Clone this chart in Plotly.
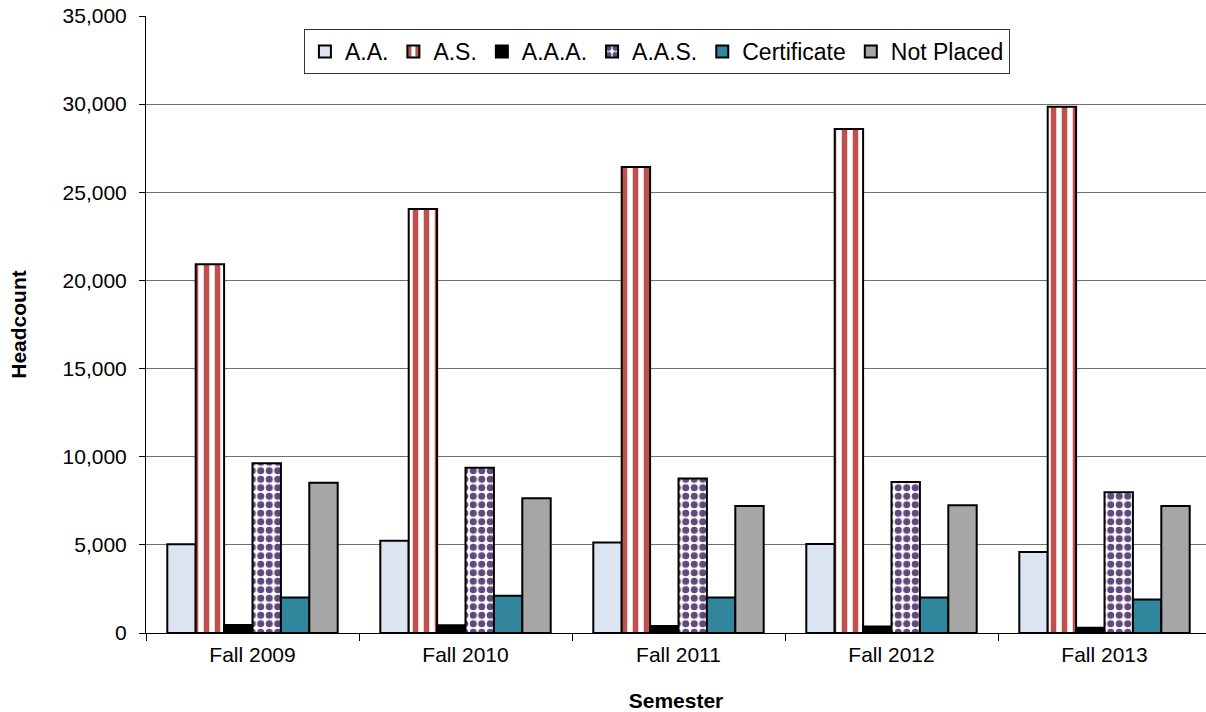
import plotly.graph_objects as go

semesters = ["Fall 2009", "Fall 2010", "Fall 2011", "Fall 2012", "Fall 2013"]
aa_vals = [5030, 5240, 5130, 5050, 4600]
as_vals = [20920, 24050, 26430, 28590, 29850]
aaa_vals = [450, 440, 400, 370, 300]
aas_vals = [9630, 9380, 8760, 8560, 7990]
cert_vals = [2010, 2120, 2020, 2020, 1900]
notplaced_vals = [8530, 7650, 7200, 7250, 7200]

series_names = ["A.A.", "A.S.", "A.A.A.", "A.A.S.", "Certificate", "Not Placed"]

FONT = "Liberation Sans, Arial, sans-serif"
line = dict(color="black", width=2)

fig = go.Figure()
fig.add_trace(go.Bar(name=series_names[0], x=semesters, y=aa_vals,
                     marker=dict(color="#DBE5F1", line=line)))
fig.add_trace(go.Bar(name=series_names[1], x=semesters, y=as_vals,
                     marker=dict(color="white", line=line,
                                 pattern=dict(shape="|", size=11, solidity=0.5,
                                              fgcolor="#C0504D", bgcolor="white",
                                              fillmode="replace"))))
fig.add_trace(go.Bar(name=series_names[2], x=semesters, y=aaa_vals,
                     marker=dict(color="black", line=line)))
fig.add_trace(go.Bar(name=series_names[3], x=semesters, y=aas_vals,
                     marker=dict(color="white", line=line,
                                 pattern=dict(shape=".", size=8.5, solidity=0.55,
                                              fgcolor="#604A7B", bgcolor="white",
                                              fillmode="replace"))))
fig.add_trace(go.Bar(name=series_names[4], x=semesters, y=cert_vals,
                     marker=dict(color="#31859C", line=line)))
fig.add_trace(go.Bar(name=series_names[5], x=semesters, y=notplaced_vals,
                     marker=dict(color="#A6A6A6", line=line)))

fig.update_layout(
    width=1206, height=712,
    margin=dict(l=146, r=0, t=16, b=79, autoexpand=False),
    paper_bgcolor="white", plot_bgcolor="white",
    barmode="group", bargap=0.2, bargroupgap=0,
    font=dict(family=FONT, size=21, color="black"),
    legend=dict(orientation="h", x=0.482, xanchor="center", y=0.979, yanchor="top",
                bgcolor="white", bordercolor="#333333", borderwidth=1,
                font=dict(family=FONT, size=23, color="black"),
                itemwidth=30),
    xaxis=dict(type="category", range=[-0.5, 4.4765],
               showline=True, linecolor="black", linewidth=1,
               ticks="outside", tickson="boundaries", ticklen=7, tickcolor="black",
               ticklabelstandoff=3,
               tickfont=dict(family=FONT, size=21, color="black"),
               showgrid=False, zeroline=False, automargin=False,
               title=dict(text="<b>Semester</b>", font=dict(family=FONT, size=21), standoff=30)),
    yaxis=dict(range=[0, 35000], dtick=5000, tickformat=",",
               showline=True, linecolor="black", linewidth=1,
               ticks="outside", ticklen=6, tickcolor="black",
               ticklabelstandoff=8,
               showgrid=True, gridcolor="#707070", gridwidth=1.2,
               zeroline=False, automargin=False,
               tickfont=dict(family=FONT, size=21, color="black"),
               title=dict(text="<b>Headcount</b>", font=dict(family=FONT, size=21), standoff=30)),
)

fig.write_html("out.html",
               config={"displayModeBar": False},
               post_script="document.body.style.margin='0';document.body.style.padding='0';")
